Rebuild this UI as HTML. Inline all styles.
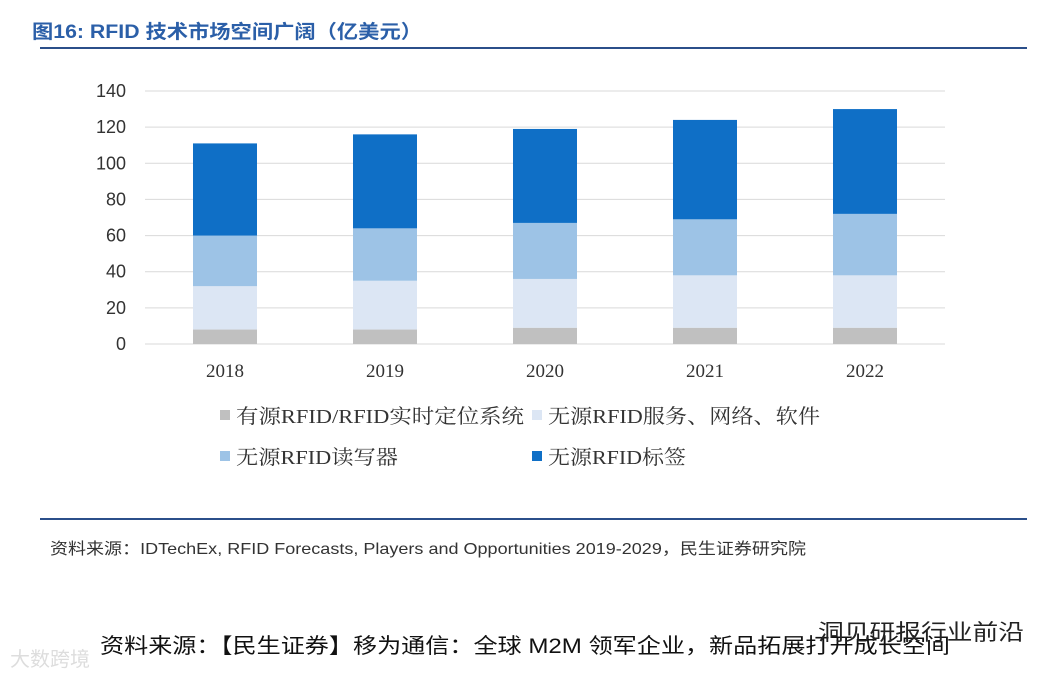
<!DOCTYPE html>
<html><head><meta charset="utf-8"><style>
body{margin:0;background:#fff;width:1060px;height:678px;overflow:hidden;font-family:"Liberation Sans","Noto Sans CJK SC",sans-serif}
</style></head><body>
<svg width="1060" height="678" xmlns="http://www.w3.org/2000/svg">
<text x="32" y="38" font-size="19" fill="#2b5fa8" font-weight="bold" textLength="390" lengthAdjust="spacingAndGlyphs" font-family="Liberation Sans,Noto Sans CJK SC,sans-serif">图16: RFID 技术市场空间广阔（亿美元）</text>
<rect x="40" y="47" width="987" height="2" fill="#2b4f8a"/>
<g id="grid"></g>
<g id="bars"></g>
<g id="xlabels"></g>
<g font-size="20" fill="#333" font-family="Liberation Serif,Noto Serif CJK SC,serif">
<rect x="220" y="410" width="10" height="10" fill="#c0c0c0"/>
<text x="236" y="423" textLength="288" lengthAdjust="spacingAndGlyphs">有源RFID/RFID实时定位系统</text>
<rect x="532" y="410" width="10" height="10" fill="#dce6f4"/>
<text x="548" y="423" textLength="272" lengthAdjust="spacingAndGlyphs">无源RFID服务、网络、软件</text>
<rect x="220" y="451" width="10" height="10" fill="#9dc3e6"/>
<text x="236" y="464" textLength="162" lengthAdjust="spacingAndGlyphs">无源RFID读写器</text>
<rect x="532" y="451" width="10" height="10" fill="#0f6fc6"/>
<text x="548" y="464" textLength="138" lengthAdjust="spacingAndGlyphs">无源RFID标签</text>
</g>
<rect x="40" y="518" width="987" height="2" fill="#2b4f8a"/>
<text x="50" y="554" font-size="16" fill="#333" textLength="756" lengthAdjust="spacingAndGlyphs">资料来源：IDTechEx, RFID Forecasts, Players and Opportunities 2019-2029，民生证券研究院</text>
<text x="100" y="653" font-size="21" fill="#111" textLength="850" lengthAdjust="spacingAndGlyphs">资料来源：【民生证券】移为通信：全球 M2M 领军企业，新品拓展打开成长空间</text>
<text x="818" y="640" font-size="22" fill="#222" textLength="206" lengthAdjust="spacingAndGlyphs">洞见研报行业前沿</text>
<text x="10" y="666" font-size="20" fill="#ddd">大数跨境</text>
</svg>
<script>
const categories=["2018","2019","2020","2021","2022"];
const activeRFID=[8,8,9,9,9];
const services=[24,27,27,29,29];
const readers=[28,29,31,31,34];
const tags=[51,52,52,55,58];
const yTicks=[0,20,40,60,80,100,120,140];
const NS="http://www.w3.org/2000/svg";
const y0=344,y1=91,vmax=140,xL=145,xR=945;
const y=v=>y0-(v/vmax)*(y0-y1);
const band=(xR-xL)/categories.length;
const x=i=>xL+band*(i+0.5);
function mk(t,a,p){const e=document.createElementNS(NS,t);for(const k in a)e.setAttribute(k,a[k]);p.appendChild(e);return e;}
const grid=document.getElementById('grid');
yTicks.forEach(t=>{
 const l=mk('line',{x1:xL,x2:xR,y1:y(t),y2:y(t),stroke:'#d9d9d9','stroke-width':1},grid);
 
 
 const tx=mk('text',{x:126,y:y(t)+6,'text-anchor':'end','font-size':18,fill:'#333'},grid);
 tx.textContent=t;
 
 
});
const series=[[activeRFID,'#c0c0c0','active'],[services,'#dce6f4','services'],[readers,'#9dc3e6','readers'],[tags,'#0f6fc6','tags']];
const bars=document.getElementById('bars');
const xl=document.getElementById('xlabels');
categories.forEach((c,i)=>{
 let acc=0;
 series.forEach(([arr,col,nm])=>{
  const r=mk('rect',{x:x(i)-32,width:64,y:y(acc+arr[i]),height:y(acc)-y(acc+arr[i]),fill:col},bars);
  
  
  acc+=arr[i];
 });
 const t=mk('text',{x:x(i),y:377,'text-anchor':'middle','font-size':19,fill:'#333','font-family':'Liberation Serif,serif'},xl);
 t.textContent=c;
 
 
});
</script>
</body></html>
